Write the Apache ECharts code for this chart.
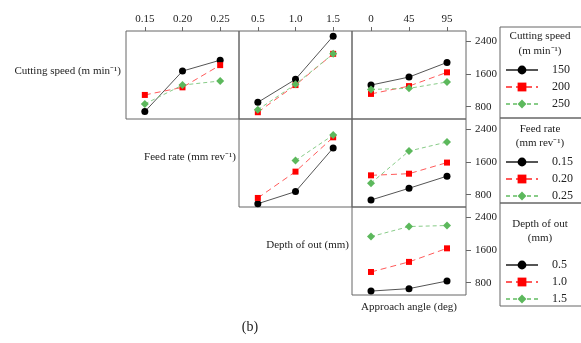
<!DOCTYPE html>
<html>
<head>
<meta charset="utf-8">
<script src="https://cdn.jsdelivr.net/npm/echarts@6/dist/echarts.min.js"></script>
<style>
  html, body { margin: 0; padding: 0; background: #fff; }
  #chart { width: 581px; height: 343px; }
</style>
</head>
<body>
<div id="chart"></div>
<script>
// x categories of each column
const catFeed = ['0.15', '0.20', '0.25'];
const catDepth = ['0.5', '1.0', '1.5'];
const catAngle = ['0', '45', '95'];
const yTicks = [800, 1600, 2400];

// legend names (series groups)
const speedNames = ['150', '200', '250'];
const feedNames = ['0.15', '0.20', '0.25'];
const depthNames = ['0.5', '1.0', '1.5'];

// row 1: cutting speed series
const csFeed150 = [680, 1665, 1930];
const csFeed200 = [1085, 1270, 1810];
const csFeed250 = [865, 1325, 1425];
const csDepth150 = [905, 1465, 2515];
const csDepth200 = [665, 1325, 2085];
const csDepth250 = [725, 1345, 2085];
const csAngle150 = [1325, 1520, 1875];
const csAngle200 = [1110, 1300, 1635];
const csAngle250 = [1220, 1245, 1400];
// row 2: feed rate series
const frDepth015 = [580, 875, 1935];
const frDepth020 = [720, 1360, 2195];
const frDepth025 = [null, 1630, 2250];
const frAngle015 = [670, 955, 1250];
const frAngle020 = [1270, 1310, 1580];
const frAngle025 = [1080, 1860, 2080];
// row 3: depth of cut series
const dcAngle05 = [595, 655, 840];
const dcAngle10 = [1060, 1305, 1635];
const dcAngle15 = [1920, 2165, 2190];

const FONT = '"Liberation Serif", "Times New Roman", serif';
const colLeft = [126, 239, 352];
const colWidth = [113, 113, 114];
const rowTop = [31, 119, 207];
const rowHeight = 88;
const colCats = [catFeed, catDepth, catAngle];

// panel: row, col, names, data
const panels = [
  [0, 0, speedNames, [csFeed150, csFeed200, csFeed250]],
  [0, 1, speedNames, [csDepth150, csDepth200, csDepth250]],
  [0, 2, speedNames, [csAngle150, csAngle200, csAngle250]],
  [1, 1, feedNames, [frDepth015, frDepth020, frDepth025]],
  [1, 2, feedNames, [frAngle015, frAngle020, frAngle025]],
  [2, 2, depthNames, [dcAngle05, dcAngle10, dcAngle15]]
];

const styles = [
  { symbol: 'circle', symbolSize: 7, color: '#000', line: '#555', type: 'solid' },
  { symbol: 'rect', symbolSize: 6, color: '#f00', line: '#ff5a5a', type: [6, 4] },
  { symbol: 'diamond', symbolSize: 8, color: '#5cb85c', line: '#88cc88', type: [4, 3] }
];

const grid = [], xAxis = [], yAxis = [], series = [];
panels.forEach((p, i) => {
  const [r, c, names, rows] = p;
  grid.push({
    left: colLeft[c], top: rowTop[r], width: colWidth[c], height: rowHeight,
    show: true, borderColor: '#666', borderWidth: 1, backgroundColor: 'transparent',
    containLabel: false, outerBoundsMode: 'none'
  });
  xAxis.push({
    type: 'category', gridIndex: i, data: colCats[c], position: 'top', boundaryGap: true,
    axisLine: { show: false },
    axisTick: { show: r === 0, alignWithLabel: true, length: 4, lineStyle: { color: '#666' } },
    axisLabel: { show: r === 0, margin: 6, fontSize: 11, color: '#222', fontFamily: FONT },
    splitLine: { show: false }
  });
  yAxis.push({
    type: 'value', gridIndex: i, min: 500, max: 2640, position: 'right',
    axisLine: { show: false },
    axisTick: { show: c === 2, length: 5, customValues: yTicks, lineStyle: { color: '#666' } },
    axisLabel: {
      show: c === 2, margin: 9, fontSize: 11, color: '#222', fontFamily: FONT,
      customValues: yTicks, formatter: v => String(v)
    },
    splitLine: { show: false }
  });
  rows.forEach((vals, k) => {
    const s = styles[k];
    series.push({
      name: names[k], type: 'line', xAxisIndex: i, yAxisIndex: i, data: vals,
      symbol: s.symbol, symbolSize: s.symbolSize, z: 2 + k,
      itemStyle: { color: s.color },
      lineStyle: { color: s.line, width: 1, type: s.type },
      connectNulls: false, animation: false
    });
  });
});

function legendAt(names, top) {
  return {
    data: names, orient: 'vertical', left: 505, top: top, padding: 0,
    itemWidth: 32, itemHeight: 11, itemGap: 5, selectedMode: false,
    textStyle: { fontSize: 12, fontFamily: FONT, color: '#222', padding: [0, 0, 0, 9] }
  };
}

const txt = (x, y, text, align, size) => ({
  type: 'text', x: x, y: y, silent: true,
  style: { text: text, textAlign: align || 'center', textVerticalAlign: 'middle', fontSize: size || 11, fontFamily: FONT, fill: '#222' }
});
const box = (y, h) => ({
  type: 'rect', silent: true, shape: { x: 500, y: y, width: 100, height: h },
  style: { fill: 'none', stroke: '#666', lineWidth: 1 }
});

const chart = echarts.init(document.getElementById('chart'));
chart.setOption({
  animation: false,
  backgroundColor: '#fff',
  grid: grid, xAxis: xAxis, yAxis: yAxis, series: series,
  legend: [legendAt(speedNames, 64), legendAt(feedNames, 156), legendAt(depthNames, 259)],
  graphic: [
    box(27, 91), box(118, 85), box(203, 103),
    txt(540, 36, 'Cutting speed'), txt(540, 51, '(m min⁻¹)'),
    txt(540, 129, 'Feed rate'), txt(540, 143, '(mm rev⁻¹)'),
    txt(540, 224, 'Depth of out'), txt(540, 238, '(mm)'),
    txt(121, 71, 'Cutting speed (m min⁻¹)', 'right'),
    txt(236, 157, 'Feed rate (mm rev⁻¹)', 'right'),
    txt(349, 245, 'Depth of out (mm)', 'right'),
    txt(409, 307, 'Approach angle (deg)'),
    txt(250, 327, '(b)', 'center', 14)
  ]
});
</script>
</body>
</html>
